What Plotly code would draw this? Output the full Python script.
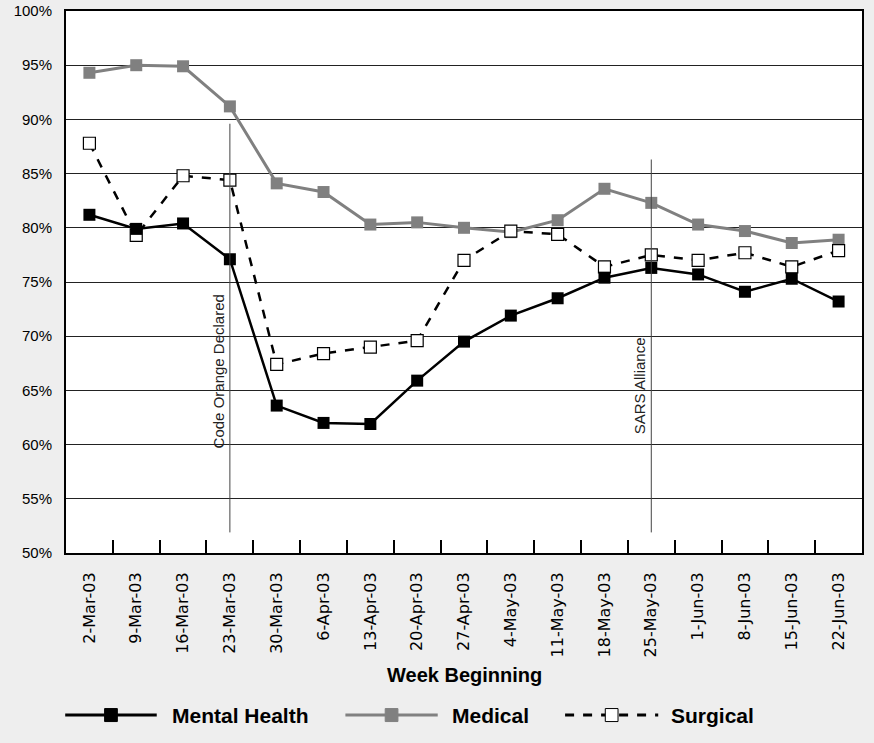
import plotly.graph_objects as go

weeks = ["2-Mar-03", "9-Mar-03", "16-Mar-03", "23-Mar-03", "30-Mar-03", "6-Apr-03",
         "13-Apr-03", "20-Apr-03", "27-Apr-03", "4-May-03", "11-May-03", "18-May-03",
         "25-May-03", "1-Jun-03", "8-Jun-03", "15-Jun-03", "22-Jun-03"]
mental_health = [81.2, 79.9, 80.4, 77.1, 63.6, 62.0, 61.9, 65.9, 69.5, 71.9, 73.5,
                 75.4, 76.3, 75.7, 74.1, 75.3, 73.2]
medical = [94.3, 95.0, 94.9, 91.2, 84.1, 83.3, 80.3, 80.5, 80.0, 79.6, 80.7,
           83.6, 82.3, 80.3, 79.7, 78.6, 78.9]
surgical = [87.8, 79.3, 84.8, 84.4, 67.4, 68.4, 69.0, 69.6, 77.0, 79.7, 79.4,
            76.4, 77.5, 77.0, 77.7, 76.4, 77.9]
y_ticks = [50, 55, 60, 65, 70, 75, 80, 85, 90, 95, 100]
y_tick_labels = [f"{v}%" for v in y_ticks]
events = [("23-Mar-03", "Code Orange Declared", 89.6, 59.5),
          ("25-May-03", "SARS Alliance", 86.3, 60.8)]

NARROW = "Liberation Sans Narrow, Arial Narrow, Liberation Sans, sans-serif"
REG = "DejaVu Sans, Liberation Sans, Arial, sans-serif"

fig = go.Figure()
fig.add_trace(go.Scatter(x=weeks, y=medical, name="Medical", mode="lines+markers",
                         line=dict(color="#808080", width=3),
                         marker=dict(symbol="square", size=12, color="#808080")))
fig.add_trace(go.Scatter(x=weeks, y=surgical, name="Surgical", mode="lines+markers",
                         line=dict(color="black", width=2.5, dash="dash"),
                         marker=dict(symbol="square", size=12, color="white",
                                     line=dict(color="black", width=1.2))))
fig.add_trace(go.Scatter(x=weeks, y=mental_health, name="Mental Health", mode="lines+markers",
                         line=dict(color="black", width=2.5),
                         marker=dict(symbol="square", size=12, color="black")))

shapes = []
annotations = []
for cat, label, ytop, ybot_text in events:
    shapes.append(dict(type="line", xref="x", yref="y", x0=cat, x1=cat, y0=51.9, y1=ytop,
                       line=dict(color="#444", width=1)))
    annotations.append(dict(x=cat, y=ybot_text, xref="x", yref="y", text=label,
                            textangle=-90, showarrow=False, xanchor="right",
                            yanchor="bottom", xshift=-1,
                            font=dict(family=NARROW, size=15, color="#222")))

annotations.append(dict(x=0.5, y=-0.225, xref="paper", yref="paper",
                        text="<b>Week Beginning</b>", showarrow=False,
                        yanchor="middle",
                        font=dict(family=NARROW, size=20, color="black")))

# custom legend (paper coordinates)
legend_items = [("Mental Health", "black", "solid", "black", "black"),
                ("Medical", "#808080", "solid", "#808080", "#808080"),
                ("Surgical", "black", "dash", "white", "black")]
leg_x = [(-0.001, 0.114, 0.131), (0.351, 0.467, 0.482), (0.627, 0.744, 0.757)]
leg_y = -0.299
for (name, lc, dash, fc, oc), (x0, x1, tx) in zip(legend_items, leg_x):
    shapes.append(dict(type="line", xref="paper", yref="paper", x0=x0, x1=x1,
                       y0=leg_y, y1=leg_y, line=dict(color=lc, width=3, dash=dash)))
    xm = (x0 + x1) / 2
    shapes.append(dict(type="rect", xref="paper", yref="paper",
                       x0=xm - 0.008, x1=xm + 0.008, y0=leg_y - 0.012, y1=leg_y + 0.012,
                       fillcolor=fc, line=dict(color=oc, width=1)))
    annotations.append(dict(x=tx, y=leg_y, xref="paper", yref="paper",
                            text=f"<b>{name}</b>", showarrow=False, xanchor="left",
                            yanchor="middle",
                            font=dict(family=NARROW, size=21, color="black")))

fig.update_layout(
    width=874, height=743,
    margin=dict(l=66, r=12, t=11, b=190, autoexpand=False),
    paper_bgcolor="#EEEEEE", plot_bgcolor="white",
    showlegend=False,
    shapes=shapes, annotations=annotations,
    xaxis=dict(type="category", tickangle=-90, tickson="boundaries",
               ticks="inside", ticklen=13, tickwidth=2, tickcolor="black",
               showline=True, linecolor="black", linewidth=2, mirror=True,
               showgrid=False, range=[-0.5, 16.5], automargin=False,
               ticklabelstandoff=11,
               tickfont=dict(family=REG, size=16, color="black")),
    yaxis=dict(range=[50, 100], tickvals=y_ticks, ticktext=y_tick_labels,
               showline=True, linecolor="black", linewidth=2, mirror=True,
               showgrid=True, gridcolor="#222", gridwidth=1, ticks="",
               zeroline=False, automargin=False, ticklabelstandoff=9,
               tickfont=dict(family=NARROW, size=15, color="black")),
)

fig.write_html("out.html",
               config={"displayModeBar": False},
               post_script="document.body.style.margin='0';"
                           "document.body.style.background='#EEEEEE';"
                           "document.documentElement.style.overflow='hidden';")
